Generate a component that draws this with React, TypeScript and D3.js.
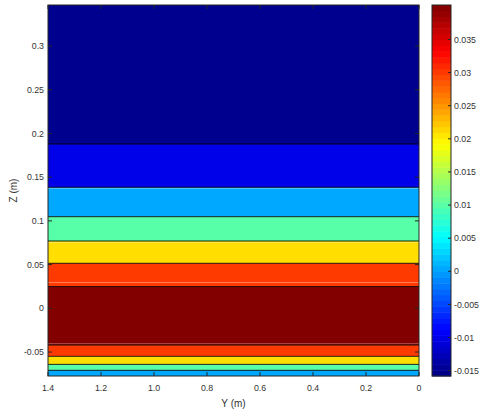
import React from "react";
import * as d3 from "d3";

// Layer boundaries (Z, m), top to bottom, and layer values
const zBounds = [0.3469, 0.1879, 0.1384, 0.1048, 0.077, 0.0515, 0.0249, -0.042, -0.0549, -0.0641, -0.0709, -0.0774];
const layerValues = [-0.015, -0.01, 0.0005, 0.01, 0.021, 0.03, 0.04, 0.03, 0.021, 0.01, 0.0005];
const highlightZ = [0.1372, 0.0755, 0.0295, -0.0405];

const yTicks = [0.3, 0.25, 0.2, 0.15, 0.1, 0.05, 0, -0.05];
const yTickLabels = ["0.3", "0.25", "0.2", "0.15", "0.1", "0.05", "0", "-0.05"];
const xTicks = [1.4, 1.2, 1.0, 0.8, 0.6, 0.4, 0.2, 0];
const xTickLabels = ["1.4", "1.2", "1.0", "0.8", "0.6", "0.4", "0.2", "0"];
const cTicks = [-0.015, -0.01, -0.005, 0, 0.005, 0.01, 0.015, 0.02, 0.025, 0.03, 0.035];
const cTickLabels = ["-0.015", "-0.01", "-0.005", "0", "0.005", "0.01", "0.015", "0.02", "0.025", "0.03", "0.035"];
const cDomain = [-0.0158, 0.0402];
const xDomain = [1.4, 0];

function jet(t: number): string {
  const c = (v: number) => Math.round(255 * Math.max(0, Math.min(1, v)));
  const r = 1.5 - Math.abs(4 * t - 3);
  const g = 1.5 - Math.abs(4 * t - 2);
  const b = 1.5 - Math.abs(4 * t - 1);
  return `rgb(${c(r)},${c(g)},${c(b)})`;
}

export default function App() {
  const W = 479, H = 417;
  const L = 48, R = 419, T = 5, B = 376;
  const x = d3.scaleLinear().domain(xDomain).range([L, R]);
  const y = d3.scaleLinear().domain([zBounds[zBounds.length - 1], zBounds[0]]).range([B, T]);
  const cScale = d3.scaleLinear().domain(cDomain).range([0, 1]).clamp(true);
  const color = (v: number) => jet(cScale(v));
  const cbL = 432, cbR = 451;
  const cy = d3.scaleLinear().domain(cDomain).range([B, T]);
  const nSteps = 64;
  const steps = d3.range(nSteps);
  const axisCol = "#262626";
  const textCol = "#333";
  const font = "'Liberation Sans', Arial, sans-serif";
  const fs = 8.8;

  return (
    <svg width={W} height={H} style={{ position: "absolute", left: 0, top: 0, background: "#fff" }} fontFamily={font}>
      {/* layers */}
      {layerValues.map((v, i) => (
        <rect key={"l" + i} x={L} y={y(zBounds[i])} width={R - L} height={y(zBounds[i + 1]) - y(zBounds[i])} fill={color(v)} />
      ))}
      {highlightZ.map((z, i) => (
        <line key={"h" + i} x1={L} x2={R} y1={y(z)} y2={y(z)} stroke="#fff" strokeOpacity={0.35} strokeWidth={1} />
      ))}
      {zBounds.slice(1, -1).map((z, i) => (
        <line key={"b" + i} x1={L} x2={R} y1={y(z)} y2={y(z)} stroke="#000" strokeOpacity={0.85} strokeWidth={1} />
      ))}
      {/* box */}
      <rect x={L} y={T} width={R - L} height={B - T} fill="none" stroke={axisCol} strokeWidth={1} />
      {/* y ticks */}
      {yTicks.map((t, i) => (
        <g key={"yt" + i}>
          <line x1={L} x2={L + 4} y1={y(t)} y2={y(t)} stroke={axisCol} />
          <line x1={R - 4} x2={R} y1={y(t)} y2={y(t)} stroke={axisCol} />
          <text x={L - 4} y={y(t)} dy="0.35em" textAnchor="end" fontSize={fs} fill={textCol}>{yTickLabels[i]}</text>
        </g>
      ))}
      {/* x ticks */}
      {xTicks.map((t, i) => (
        <g key={"xt" + i}>
          <line x1={x(t)} x2={x(t)} y1={B} y2={B - 4} stroke={axisCol} />
          <line x1={x(t)} x2={x(t)} y1={T} y2={T + 4} stroke={axisCol} />
          <text x={x(t)} y={391} textAnchor="middle" fontSize={fs} fill={textCol}>{xTickLabels[i]}</text>
        </g>
      ))}
      <text x={(L + R) / 2} y={407} textAnchor="middle" fontSize={10} fill={textCol}>Y (m)</text>
      <text transform={`translate(17,${(T + B) / 2}) rotate(-90)`} textAnchor="middle" fontSize={10} fill={textCol}>Z (m)</text>
      {/* colorbar */}
      {steps.map((s) => {
        const v0 = cDomain[0] + ((cDomain[1] - cDomain[0]) * s) / nSteps;
        const v1 = cDomain[0] + ((cDomain[1] - cDomain[0]) * (s + 1)) / nSteps;
        return (
          <rect key={"c" + s} x={cbL} y={cy(v1)} width={cbR - cbL} height={cy(v0) - cy(v1) + 0.5} fill={jet((s + 0.5) / nSteps)} />
        );
      })}
      <rect x={cbL} y={T} width={cbR - cbL} height={B - T} fill="none" stroke={axisCol} strokeWidth={1} />
      {cTicks.map((t, i) => (
        <g key={"ct" + i}>
          <line x1={cbR - 3} x2={cbR} y1={cy(t)} y2={cy(t)} stroke={axisCol} />
          <text x={454} y={cy(t)} dy="0.35em" textAnchor="start" fontSize={fs} fill={textCol}>{cTickLabels[i]}</text>
        </g>
      ))}
    </svg>
  );
}
